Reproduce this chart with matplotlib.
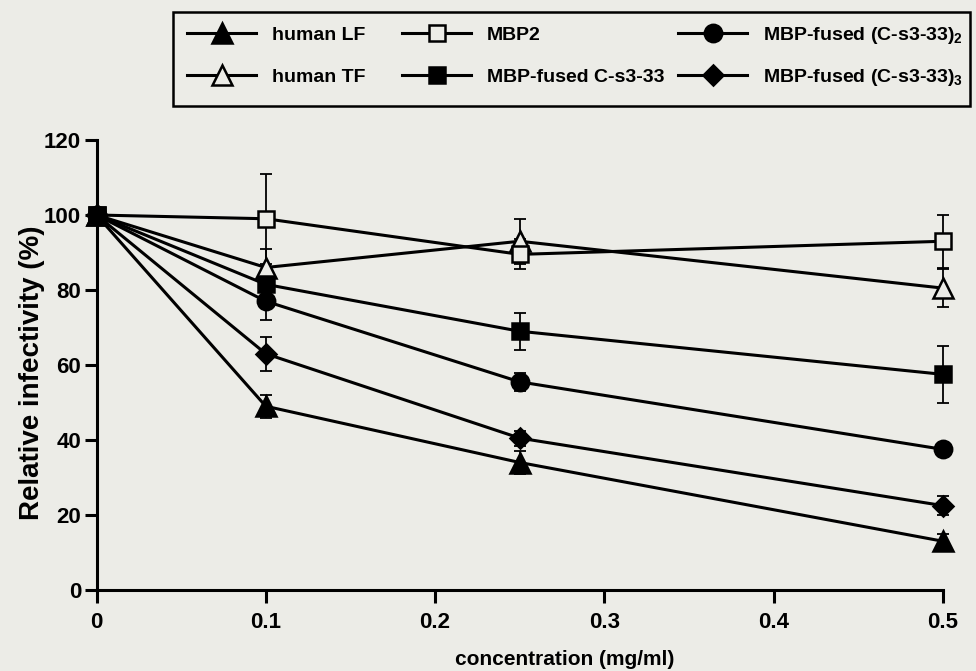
import matplotlib
matplotlib.use("Agg")
import matplotlib.pyplot as plt
from matplotlib.lines import Line2D
from matplotlib.patches import Rectangle

conc = [0, 0.1, 0.25, 0.5]

human_lf = [100, 49, 34, 13]
human_lf_err = [0, 3, 3, 2]
human_tf = [100, 86, 93, 80.5]
human_tf_err = [0, 5, 6, 5]
mbp2 = [100, 99, 89.5, 93]
mbp2_err = [0, 12, 4, 7]
fused_1 = [100, 81.5, 69, 57.5]
fused_1_err = [0, 3, 5, 7.5]
fused_2 = [100, 77, 55.5, 37.5]
fused_2_err = [0, 5, 2.5, 1.5]
fused_3 = [100, 63, 40.5, 22.5]
fused_3_err = [0, 4.5, 2, 2.5]

labels = ["human LF", "human TF", "MBP2", "MBP-fused C-s3-33",
          r"MBP-fused (C-s3-33)$_\mathbf{2}$", r"MBP-fused (C-s3-33)$_\mathbf{3}$"]

plt.rcParams['font.family'] = ['Liberation Sans', 'DejaVu Sans']
plt.rcParams['font.weight'] = 'bold'
plt.rcParams['mathtext.fontset'] = 'custom'
plt.rcParams['mathtext.bf'] = 'Liberation Sans:bold'
plt.rcParams['mathtext.rm'] = 'Liberation Sans:bold'

BG = '#ecece7'
W, H = 976, 671
fig = plt.figure(figsize=(9.76, 6.71), dpi=100, facecolor=BG)
ax = fig.add_axes([96.5/W, 1 - 590/H, 846.5/W, 450/H])
ax.set_facecolor(BG)

series = [
    (human_lf, human_lf_err, '^', 'black'),
    (human_tf, human_tf_err, '^', BG),
    (mbp2, mbp2_err, 's', BG),
    (fused_1, fused_1_err, 's', 'black'),
    (fused_2, fused_2_err, 'o', 'black'),
    (fused_3, fused_3_err, 'D', 'black'),
]
sizes = {'^': 15, 's': 11, 'o': 12.5, 'D': 10.5}

for (vals, err, mk, fc), lab in zip(series, labels):
    ax.errorbar(conc, vals, yerr=err, fmt='none', ecolor='black',
                elinewidth=1.3, capsize=4.5, capthick=1.3, zorder=2,
                clip_on=False)
    ax.plot(conc, vals, color='black', lw=2.2, marker=mk,
            markersize=sizes[mk], markerfacecolor=fc, markeredgecolor='black',
            markeredgewidth=1.8, zorder=3, clip_on=False, label=lab)

ax.set_xlim(0, 0.5)
ax.set_ylim(0, 120)
ax.set_xticks([0, 0.1, 0.2, 0.3, 0.4, 0.5])
ax.set_xticklabels(["0", "0.1", "0.2", "0.3", "0.4", "0.5"])
ax.set_yticks([0, 20, 40, 60, 80, 100, 120])
for s in ['top', 'right']:
    ax.spines[s].set_visible(False)
for s in ['left', 'bottom']:
    ax.spines[s].set_linewidth(2.2)
ax.tick_params(direction='out', length=9, width=2.2, labelsize=16)
ax.tick_params(axis='x', pad=7)
ax.tick_params(axis='y', pad=2)
for t in ax.get_xticklabels() + ax.get_yticklabels():
    t.set_fontweight('bold')

ax.set_ylabel("Relative infectivity (%)", fontsize=20, fontweight='bold')
ax.yaxis.set_label_coords(-0.061, 0.482)
ax.set_xlabel("concentration (mg/ml)", fontsize=15, fontweight='bold')
ax.xaxis.set_label_coords((565 - 96.5) / 846.5, -0.133)

# legend drawn entry by entry (three columns, two rows) inside a frame
col_x = [187, 402, 678]
row_y = [33, 75]
handle_len = 69
text_gap = 16
for i, (vals, err, mk, fc) in enumerate(series):
    cx = col_x[i // 2]
    cy = row_y[i % 2]
    y = 1 - cy / H
    xs = [cx / W, (cx + handle_len / 2) / W, (cx + handle_len) / W]
    fig.add_artist(Line2D(xs, [y, y, y], transform=fig.transFigure,
                          color='black', lw=2.2, marker=mk, markevery=[1],
                          markersize=sizes[mk], markerfacecolor=fc,
                          markeredgecolor='black', markeredgewidth=1.8))
    fig.text((cx + handle_len + text_gap) / W, y, labels[i], fontsize=14,
             fontweight='bold', ha='left', va='center_baseline')

fig.add_artist(Rectangle((173/W, 1 - 106/H), (970-173)/W, 94/H,
                         transform=fig.transFigure, fill=False,
                         edgecolor='black', linewidth=1.8))

fig.savefig("out.png", dpi=100, facecolor=BG)
